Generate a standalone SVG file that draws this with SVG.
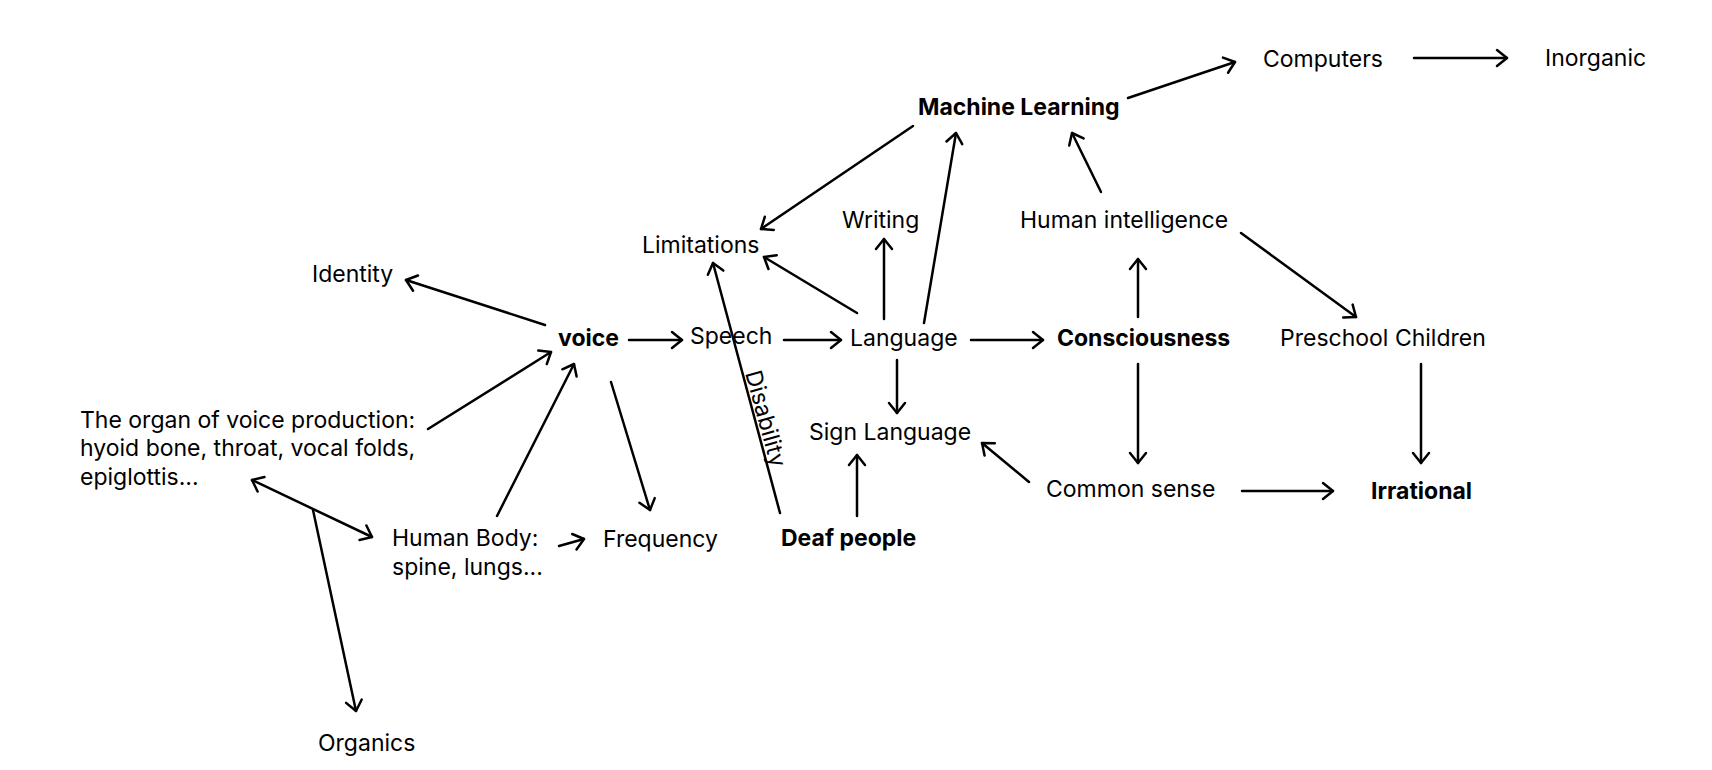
<svg xmlns="http://www.w3.org/2000/svg" width="1712" height="770" viewBox="0 0 1712 770">
<style>
text{font-family:Inter,"Noto Sans","Liberation Sans",sans-serif;font-size:23px;fill:#000}
.b{font-weight:700}
.c line{stroke:#000;stroke-width:2.5;fill:none;stroke-linecap:round}
</style>
<defs>
<marker id="a" markerUnits="userSpaceOnUse" markerWidth="20" markerHeight="20" refX="12" refY="8" orient="auto" overflow="visible">
<path d="M2,0 L12,8 L2,16" fill="none" stroke="#000" stroke-width="2.5" stroke-linecap="round" stroke-linejoin="round"/>
</marker>
<marker id="s" markerUnits="userSpaceOnUse" markerWidth="20" markerHeight="20" refX="0" refY="8" orient="auto" overflow="visible">
<path d="M10,0 L0,8 L10,16" fill="none" stroke="#000" stroke-width="2.5" stroke-linecap="round" stroke-linejoin="round"/>
</marker>
</defs>
<rect width="1712" height="770" fill="#fff"/>
<g class="c" id="connectors">
<line x1="1414" y1="58" x2="1507" y2="58" marker-end="url(#a)"/>
<line x1="1128" y1="98" x2="1235" y2="62" marker-end="url(#a)"/>
<line x1="913" y1="126" x2="761" y2="229" marker-end="url(#a)"/>
<line x1="924" y1="323" x2="956" y2="133" marker-end="url(#a)"/>
<line x1="1101" y1="192" x2="1072" y2="133" marker-end="url(#a)"/>
<line x1="1241" y1="233" x2="1356" y2="317" marker-end="url(#a)"/>
<line x1="884" y1="319" x2="884" y2="239" marker-end="url(#a)"/>
<line x1="857" y1="313" x2="764" y2="257" marker-end="url(#a)"/>
<line x1="545" y1="325" x2="406" y2="280" marker-end="url(#a)"/>
<line x1="629" y1="340" x2="682" y2="340" marker-end="url(#a)"/>
<line x1="784" y1="340" x2="841" y2="340" marker-end="url(#a)"/>
<line x1="971" y1="340" x2="1043" y2="340" marker-end="url(#a)"/>
<line x1="1138" y1="317" x2="1138" y2="259" marker-end="url(#a)"/>
<line x1="1138" y1="364" x2="1138" y2="463" marker-end="url(#a)"/>
<line x1="1421" y1="364" x2="1421" y2="463" marker-end="url(#a)"/>
<line x1="1242" y1="491" x2="1333" y2="491" marker-end="url(#a)"/>
<line x1="1029" y1="482" x2="982" y2="443" marker-end="url(#a)"/>
<line x1="897" y1="360" x2="897" y2="413" marker-end="url(#a)"/>
<line x1="857" y1="516" x2="857" y2="455" marker-end="url(#a)"/>
<line x1="780" y1="513" x2="713" y2="263" marker-end="url(#a)"/>
<line x1="611" y1="382" x2="650" y2="510" marker-end="url(#a)"/>
<line x1="428" y1="429" x2="551" y2="352" marker-end="url(#a)"/>
<line x1="497" y1="516" x2="574" y2="364" marker-end="url(#a)"/>
<line x1="559" y1="546" x2="584" y2="539" marker-end="url(#a)"/>
<line x1="252" y1="480" x2="372" y2="537" marker-start="url(#s)" marker-end="url(#a)"/>
<line x1="313" y1="510" x2="356" y2="711" marker-end="url(#a)"/>
<text x="0" y="0" font-size="16" transform="translate(745,373) rotate(74.6)">Disability</text>
</g>
<g id="n-computers"><text x="1263" y="67">Computers</text></g>
<g id="n-inorganic"><text x="1545" y="66">Inorganic</text></g>
<g id="n-ml"><text class="b" x="918" y="115">Machine Learning</text></g>
<g id="n-writing"><text x="842" y="228">Writing</text></g>
<g id="n-hi"><text x="1020" y="228">Human intelligence</text></g>
<g id="n-limitations"><text x="642" y="253">Limitations</text></g>
<g id="n-identity"><text x="312" y="282">Identity</text></g>
<g id="n-voice"><text class="b" x="558" y="346">voice</text></g>
<g id="n-speech"><text x="690" y="344">Speech</text></g>
<g id="n-language"><text x="850" y="346">Language</text></g>
<g id="n-consciousness"><text class="b" x="1057" y="346">Consciousness</text></g>
<g id="n-preschool"><text x="1280" y="346">Preschool Children</text></g>
<g id="n-organ"><text x="80" y="428">The organ of voice production:</text><text x="80" y="456">hyoid bone, throat, vocal folds,</text><text x="80" y="485">epiglottis...</text></g>
<g id="n-sign"><text x="809" y="440">Sign Language</text></g>
<g id="n-common"><text x="1046" y="497">Common sense</text></g>
<g id="n-irrational"><text class="b" x="1371" y="499">Irrational</text></g>
<g id="n-body"><text x="392" y="546">Human Body:</text><text x="392" y="575">spine, lungs...</text></g>
<g id="n-frequency"><text x="603" y="547">Frequency</text></g>
<g id="n-deaf"><text class="b" x="781" y="546">Deaf people</text></g>
<g id="n-organics"><text x="318" y="751">Organics</text></g>
</svg>
